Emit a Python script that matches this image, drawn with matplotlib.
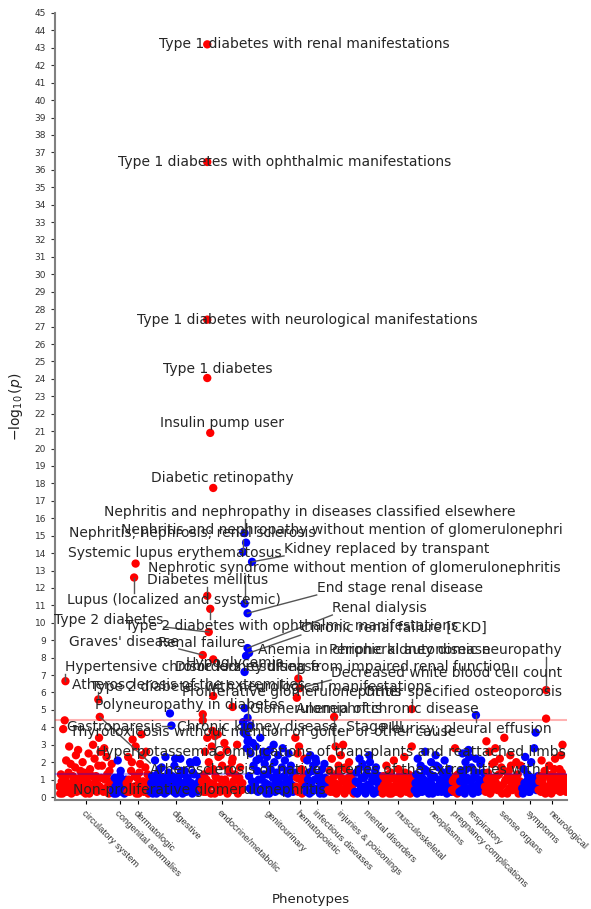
import numpy as np
import matplotlib
matplotlib.use("Agg")
import matplotlib.pyplot as plt

plt.rcParams['font.family'] = ['DejaVu Sans']

# phenotype groups in plotting order, with -log10(p) of each phenotype
groups = ['circulatory system', 'congenital anomalies', 'dermatologic', 'digestive',
          'endocrine/metabolic', 'genitourinary', 'hematopoietic', 'infectious diseases',
          'injuries & poisonings', 'mental disorders', 'musculoskeletal', 'neoplasms',
          'pregnancy complications', 'respiratory', 'sense organs', 'symptoms', 'neurological']

circulatory = [0.6, 0.2, 1.3, 0.9, 0.2, 3.9, 0.5, 4.4, 1.1, 2.1, 0.3, 0.8, 1.4, 2.9, 0.6, 1.9, 0.2, 0.4,
               1.2, 1.0, 0.7, 1.7, 2.4, 0.3, 0.9, 2.7, 0.4, 1.1, 1.5, 0.5, 0.8, 2.0, 0.3, 1.4, 1.0, 0.2,
               0.6, 0.9, 1.3, 2.5, 0.2, 1.6, 0.7, 0.4, 1.2, 3.0, 0.5, 2.2, 0.9, 1.2, 0.3, 0.7, 1.8, 3.4,
               0.6, 2.6, 1.1, 1.8, 0.4, 0.3, 2.8, 1.0, 0.5, 2.3, 1.3, 0.6, 0.2, 1.5, 0.9, 0.8, 1.9, 0.4]
congenital = [0.4, 0.2, 1.1, 0.6, 0.2, 0.9, 2.1, 0.3, 0.7, 1.2, 1.5, 0.4, 0.3, 0.8, 0.9, 0.2, 0.5, 1.0]
dermatologic = [0.8, 0.3, 2.3, 1.0, 0.3, 0.6, 1.5, 2.0, 3.3, 0.4, 0.6, 1.2, 2.9, 0.2, 1.1, 0.7, 0.2,
                1.4, 1.9, 0.5, 3.6, 2.4, 0.9, 0.3, 0.4, 1.7, 2.6, 0.8, 1.3, 0.2, 0.5, 1.0]
digestive = [0.3, 0.8, 1.2, 0.2, 0.6, 1.0, 2.1, 0.4, 0.2, 1.3, 0.9, 0.5, 1.6, 0.3, 0.4, 1.7, 1.1, 0.6,
             0.7, 0.2, 2.3, 1.1, 0.3, 0.8, 1.4, 0.5, 4.8, 0.9, 0.5, 1.2, 0.9, 0.3, 1.8, 2.2, 0.2, 0.7,
             0.6, 1.0, 1.2, 0.4, 2.2, 1.5, 0.4, 0.2, 0.8, 1.3, 1.5, 0.6, 0.3, 1.1, 1.0, 0.4, 0.6, 2.0,
             1.9, 0.8, 0.2, 1.4, 1.3, 0.5, 0.7, 2.1, 2.0, 0.3, 0.5, 0.9, 1.1, 0.4]
endocrine = [0.5, 0.9, 4.4, 0.3, 1.3, 2.6, 0.3, 1.0, 3.4, 0.6, 2.0, 1.5, 0.8, 0.2, 2.9, 3.8, 1.6, 0.7,
             0.2, 1.2, 1.1, 0.4, 3.6, 2.3, 0.6, 0.3, 2.4, 1.0, 1.8, 0.5, 0.4, 3.1, 1.0, 0.8, 2.7, 0.2,
             0.3, 1.6, 1.4, 0.6, 0.7, 2.0, 2.2, 0.9, 0.5, 1.3, 1.2, 0.4, 3.0, 0.2, 0.9, 1.1, 1.7, 0.6,
             0.4, 0.8]
genitourinary = [4.3, 3.7, 3.9, 4.0, 3.6, 2.8, 3.2, 3.3, 1.2, 0.5, 2.5, 0.4, 0.9, 3.1, 1.8, 0.6, 0.7,
                 2.9, 2.1, 1.5, 0.3, 1.0, 2.2, 3.4, 0.4, 1.0, 0.5, 2.6, 1.3, 1.9, 0.8, 0.2, 2.3, 1.3,
                 0.7, 0.2, 2.7, 1.6, 0.5, 0.6, 1.1, 3.0, 2.0, 0.3, 0.9, 1.4, 0.8, 2.4, 0.4, 1.1, 0.6,
                 0.7, 1.7, 2.8, 0.3, 1.2, 2.1, 0.5, 0.9, 1.5, 0.2, 2.5, 1.0, 0.4, 1.8, 0.7, 1.2, 0.3,
                 0.6, 1.4]
hematopoietic = [3.4, 0.6, 1.1, 2.5, 0.3, 2.9, 0.4, 1.0, 1.6, 0.2, 0.8, 1.3, 2.2, 0.5]
infectious = [0.6, 0.3, 2.1, 1.0, 1.4, 0.2, 2.4, 0.8, 0.3, 1.5, 1.8, 0.5, 1.0, 2.2, 2.0, 0.4, 0.5, 1.2,
              1.3, 0.2, 0.8, 0.7, 1.6, 0.3, 0.2, 1.9, 1.1, 0.6, 0.7, 0.4]
injuries = [0.4, 1.0, 1.5, 0.3, 0.9, 2.2, 0.6, 0.3, 1.2, 0.8, 2.9, 0.2, 0.7, 1.4, 1.8, 0.5, 0.5, 2.4,
            1.1, 0.9, 3.0, 0.3, 0.2, 1.7, 1.6, 0.6, 0.8, 1.1, 2.0, 0.4, 0.4, 1.3, 1.3, 0.7, 0.2, 0.9]
mental = [0.3, 0.9, 1.4, 0.2, 0.8, 1.6, 2.2, 0.4, 0.5, 1.1, 1.9, 0.6, 1.1, 0.3, 0.2, 1.3, 1.6, 0.7,
          0.7, 2.4, 2.0, 0.5, 0.4, 1.0, 1.2, 0.2, 0.9, 1.5, 1.7, 0.4, 0.3, 0.8, 1.0, 1.2, 0.6, 0.3]
musculoskeletal = [0.5, 0.2, 1.2, 0.7, 0.3, 1.0, 1.8, 0.4, 0.9, 1.3, 0.2, 0.6, 1.4, 0.2, 0.6, 1.1, 2.1,
                   0.5, 1.0, 0.3, 0.4, 0.8, 1.6, 1.2, 0.7, 0.2, 0.3, 0.9, 1.1, 0.5, 2.3, 1.4, 0.8, 0.3,
                   0.5, 1.0, 1.3, 0.6, 0.2, 0.9, 2.9, 0.4, 0.9, 1.2]
neoplasms = [0.4, 0.8, 1.3, 0.2, 2.2, 1.0, 0.7, 0.3, 1.8, 1.2, 0.3, 0.6, 1.0, 1.6, 2.6, 0.4, 1.5, 0.9,
             0.5, 0.2, 0.9, 1.3, 2.0, 0.7, 0.2, 1.1, 1.2, 0.5, 2.4, 1.8, 0.6, 0.3, 1.7, 1.0, 0.8, 0.4,
             0.3, 1.4, 1.4, 0.6, 2.1, 0.9, 1.1, 0.2, 0.5, 1.2, 1.6, 0.7, 0.9, 0.3]
pregnancy = [0.4, 0.9, 1.0, 0.3, 2.8, 1.2, 0.7, 0.2, 1.3, 0.6]
respiratory = [0.3, 0.9, 1.5, 0.4, 2.5, 1.2, 0.8, 0.2, 2.0, 1.6, 1.1, 0.5, 2.7, 2.3, 0.5, 0.9, 1.7, 0.3,
               0.2, 1.1, 1.3, 0.6, 2.2, 1.4, 0.7, 0.3, 1.0, 0.8, 1.9, 2.1, 0.4, 0.6, 1.4, 1.0]
sense_organs = [0.6, 0.3, 3.2, 1.0, 1.4, 0.7, 2.6, 0.2, 0.3, 1.1, 1.9, 0.5, 0.9, 2.0, 2.8, 0.8, 1.2, 0.4,
                0.4, 1.3, 2.2, 0.6, 1.7, 0.2, 0.7, 1.5, 3.4, 0.9, 1.0, 0.3, 0.2, 1.2, 1.5, 0.5, 2.4, 1.8,
                0.8, 0.4, 1.1, 0.7, 0.5, 1.0, 2.0, 0.6, 1.3, 0.2, 0.3, 0.9, 1.8, 0.5]
symptoms = [0.5, 0.2, 1.6, 0.8, 2.3, 0.4, 0.9, 1.3, 1.2, 0.3, 0.3, 0.7, 2.0, 1.1, 1.0, 0.5, 2.8, 0.9,
            3.7, 0.4, 0.7, 1.2]
neurological = [0.4, 0.9, 1.2, 0.3, 2.1, 1.0, 0.7, 0.5, 1.5, 0.2, 4.5, 1.3, 0.3, 0.6, 1.8, 1.1, 0.9, 0.2,
                1.3, 0.8, 0.5, 1.6, 2.2, 0.4, 1.0, 0.7, 0.6, 1.2, 1.6, 0.3, 2.4, 1.4, 3.0, 0.9, 0.8, 0.5,
                1.1, 0.3]

group_values = [circulatory, congenital, dermatologic, digestive, endocrine, genitourinary,
                hematopoietic, infectious, injuries, mental, musculoskeletal, neoplasms,
                pregnancy, respiratory, sense_organs, symptoms, neurological]

# labelled phenotypes: name, phenotype index, -log10(p)
hit_labels = [
    'Type 1 diabetes with renal manifestations', 'Type 1 diabetes with ophthalmic manifestations',
    'Type 1 diabetes with neurological manifestations', 'Type 1 diabetes', 'Insulin pump user',
    'Diabetic retinopathy', 'Nephritis and nephropathy in diseases classified elsewhere',
    'Nephritis and nephropathy without mention of glomerulonephri',
    'Nephritis; nephrosis; renal sclerosis', 'Systemic lupus erythematosus',
    'Kidney replaced by transpant', 'Nephrotic syndrome without mention of glomerulonephritis',
    'Diabetes mellitus', 'End stage renal disease', 'Lupus (localized and systemic)',
    'Renal dialysis', 'Type 2 diabetes', 'Type 2 diabetes with ophthalmic manifestations',
    'Chronic renal failure [CKD]', "Graves' disease", 'Renal failure',
    'Anemia in chronic kidney disease', 'Peripheral autonomic neuropathy', 'Hypoglycemia',
    'Disorders resulting from impaired renal function', 'Hypertensive chronic kidney disease',
    'Decreased white blood cell count', 'Atherosclerosis of the extremities',
    'Type 2 diabetes with neurological manifestations', 'Proliferative glomerulonephritis',
    'Other specified osteoporosis', 'Polyneuropathy in diabetes', 'Glomerulonephritis',
    'Anemia of chronic disease', 'Gastroparesis', 'Chronic kidney disease, Stage III',
    'Pleurisy; pleural effusion', 'Thyrotoxicosis without mention of goiter or other cause',
    'Hyperpotassemia', 'Complications of transplants and reattached limbs',
    'Atherosclerosis of native arteries of the extremities with i',
    'Non-proliferative glomerulonephritis']
hit_x = [198, 198, 198, 198, 202, 206, 248, 250, 246, 102, 258, 248, 198, 252, 100, 252, 200, 202, 254,
         192, 250, 320, 652, 206, 248, 8, 322, 52, 206, 252, 472, 232, 248, 318, 150, 256, 558, 192,
         208, 368, 54, 262]
hit_y = [43.2, 36.45, 27.4, 24.05, 20.9, 17.74, 15.15, 14.6, 14.07, 13.4, 13.5, 11.1, 11.55, 10.55,
         12.6, 8.55, 9.47, 10.8, 8.27, 8.15, 8.1, 6.8, 6.14, 7.9, 7.18, 6.65, 6.25, 5.6, 5.8, 4.55,
         5.05, 5.17, 5.1, 5.7, 4.1, 4.1, 4.7, 4.75, 3.5, 4.6, 4.6, 0.6]

# repelled label positions (data coords)
lab_x = [328.6, 302, 331.4, 212.2, 217.6, 218.8, 335.4, 378.2, 177.4, 154.6, 438.4, 395.6, 198.8,
         455.8, 153.2, 429, 66.4, 311.2, 447.8, 86.4, 190.8, 422.4, 517.4, 235, 379.4, 178.8, 518.8,
         173.4, 271, 311.2, 540, 174.6, 343.4, 439.8, 73, 308.6, 544, 272.4, 130.6, 442.4, 388.8, 186.8]
lab_y = [43.2, 36.45, 27.4, 24.57, 21.47, 18.31, 16.36, 15.33, 15.15, 14.0, 14.24, 13.15, 12.46, 12.0,
         11.31, 10.85, 10.16, 9.82, 9.7, 8.9, 8.84, 8.44, 8.44, 7.69, 7.46, 7.46, 7.12, 6.43, 6.31,
         6.03, 6.03, 5.28, 5.05, 5.05, 4.02, 4.02, 3.9, 3.73, 2.58, 2.58, 1.55, 0.40]

colors = ['#ff0000', '#0000ff']

fig = plt.figure(figsize=(5.91, 9.09), dpi=100)
ax = fig.add_axes([55 / 591, 109 / 909, 512 / 591, 787 / 909])

xs, ys, cs, ticks = [], [], [], []
start = 0
for i, vals in enumerate(group_values):
    idx = np.arange(start, start + len(vals))
    xs.extend(idx)
    ys.extend(vals)
    cs.extend([colors[i % 2]] * len(vals))
    ticks.append(idx.mean())
    start += len(vals)

group_of = np.repeat(np.arange(len(groups)), [len(v) for v in group_values])
ax.scatter(xs, ys, c=cs, s=36, linewidths=0, zorder=2)
hit_c = [colors[group_of[x] % 2] for x in hit_x]
ax.scatter(hit_x, hit_y, c=hit_c, s=36, linewidths=0, zorder=2)

ax.axhline(4.45, color='#ff0000', alpha=0.3, lw=1.5, zorder=4)
ax.axhline(1.3, color='#0000ff', alpha=0.3, lw=1.5, zorder=4)

ax.set_xlim(-6, 680)
ax.set_ylim(-0.17, 45)

texts = []
for lbl, lx, ly in zip(hit_labels, lab_x, lab_y):
    t = ax.text(lx, ly, lbl, ha='center', va='center', fontsize=10, color='#262626', zorder=5)
    texts.append(t)

# leader segments from point to nearest edge of label box
fig.canvas.draw()
inv = ax.transData.inverted()
for t, px, py in zip(texts, hit_x, hit_y):
    bb = t.get_window_extent()
    p = ax.transData.transform((px, py))
    cx = min(max(p[0], bb.x0), bb.x1)
    cy = min(max(p[1], bb.y0), bb.y1)
    if np.hypot(cx - p[0], cy - p[1]) > 6:
        q = inv.transform((cx, cy))
        ax.plot([px, q[0]], [py, q[1]], color='#555555', lw=1, zorder=3)

ax.set_yticks(range(0, 46))
ax.set_xticks(ticks)
ax.set_xticklabels(groups, rotation=-45, ha='left', va='top', rotation_mode='anchor', fontsize=6.8,
                   color='#333333', family='Liberation Sans')
ax.tick_params(axis='y', labelsize=6.5, colors='#333333', length=3, width=0.8)
ax.tick_params(axis='x', length=3, width=0.8, pad=3)
for side in ['top', 'right']:
    ax.spines[side].set_visible(False)
for side in ['left', 'bottom']:
    ax.spines[side].set_color('#808080')
    ax.spines[side].set_linewidth(1.5)

ax.set_xlabel('Phenotypes', fontsize=9.5, color='#222222')
ax.xaxis.set_label_coords(0.5, -0.118)
ax.set_ylabel(r'$-\log_{10}(p)$', fontsize=10, color='#222222')
ax.yaxis.set_label_coords(-0.058, 0.5)

fig.savefig('out.png', dpi=100)
